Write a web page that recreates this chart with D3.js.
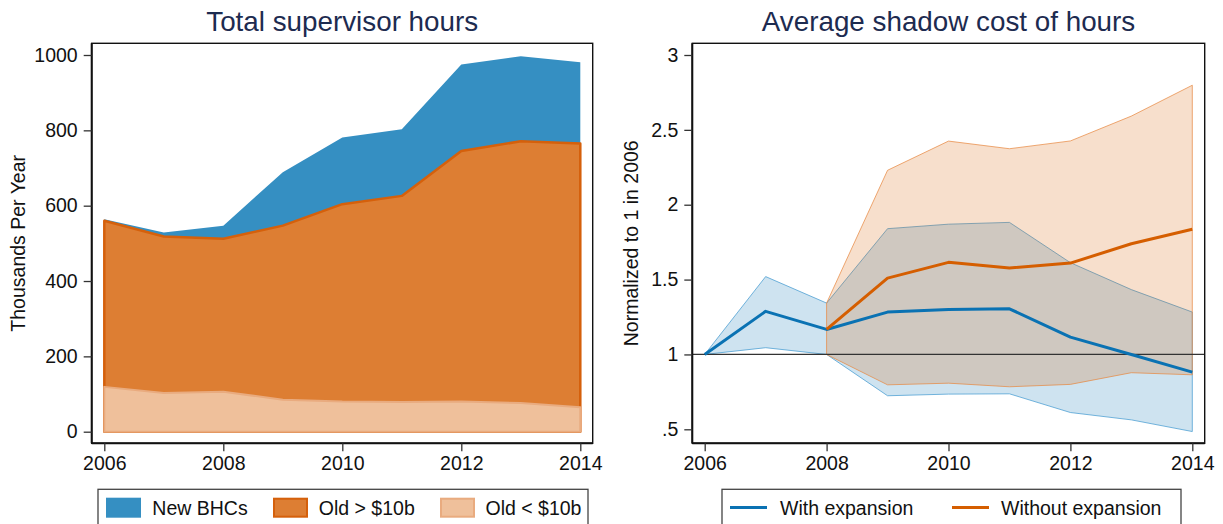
<!DOCTYPE html>
<html>
<head>
<meta charset="utf-8">
<script src="https://cdn.jsdelivr.net/npm/d3@7"></script>
<style>
  body { margin: 0; background: #fff; }
  svg text { font-family: "Liberation Sans", Arial, sans-serif; }
</style>
</head>
<body>
<div id="viz"></div>
<script>
var width = 1223,
    height = 524;

// data -- left panel (thousands of hours per year)
var years = [2006, 2007, 2008, 2009, 2010, 2011, 2012, 2013, 2014];
var newBHC   = [4, 11, 35, 142, 177, 177, 230, 226, 216];
var oldLarge = [441, 415, 406, 462, 524, 547, 665, 695, 700];
var oldSmall = [119, 103, 106, 85, 80, 79, 80, 76, 65];
var leftTicks = [0, 200, 400, 600, 800, 1000];

// data -- right panel (normalized to 1 in 2006)
var withExp = [1, 1.288, 1.167, 1.283, 1.300, 1.305, 1.116, 1.0, 0.882];
var withLo  = [1, 1.045, 1.0, 0.724, 0.735, 0.737, 0.612, 0.563, 0.485];
var withHi  = [1, 1.52, 1.343, 1.84, 1.87, 1.882, 1.613, 1.433, 1.283];
var woExp = [null, null, 1.167, 1.51, 1.615, 1.577, 1.61, 1.739, 1.836];
var woLo  = [null, null, 1.0, 0.797, 0.808, 0.784, 0.80, 0.878, 0.864];
var woHi  = [null, null, 1.343, 2.23, 2.425, 2.374, 2.426, 2.592, 2.798];
var rightTicks = [0.5, 1, 1.5, 2, 2.5, 3];
var xTicks = [2006, 2008, 2010, 2012, 2014];

var titleColor = "#1d2b50";
var colors = {
  newBHC: "#358fc2",
  oldLarge: "#dd7e33", oldLargeEdge: "#d5600b",
  oldSmall: "#efc09b", oldSmallEdge: "#e9ab7f",
  withExp: "#0a72b3", woExp: "#d55e00"
};

var svg = d3.select("#viz").append("svg")
    .attr("width", width)
    .attr("height", height);

// helper to draw frame, axes, titles
function drawFrame(g, box, x, y, yTicks, yFmt, title, ytitle, ytitleX) {
  g.append("rect")
      .attr("x", box.l).attr("y", box.t)
      .attr("width", box.r - box.l).attr("height", box.b - box.t)
      .attr("fill", "none").attr("stroke", "#111").attr("stroke-width", 1.4);
  // heavier left / bottom axis lines
  g.append("line").attr("x1", box.l).attr("x2", box.l).attr("y1", box.t).attr("y2", box.b)
      .attr("stroke", "#111").attr("stroke-width", 2);
  g.append("line").attr("x1", box.l).attr("x2", box.r).attr("y1", box.b).attr("y2", box.b)
      .attr("stroke", "#111").attr("stroke-width", 2);

  var ya = g.append("g")
      .attr("transform", "translate(" + box.l + ",0)")
      .call(d3.axisLeft(y).tickValues(yTicks).tickFormat(yFmt).tickSize(8).tickPadding(6));
  var xa = g.append("g")
      .attr("transform", "translate(0," + box.b + ")")
      .call(d3.axisBottom(x).tickValues(xTicks).tickFormat(d3.format("d")).tickSize(8).tickPadding(5));
  [ya, xa].forEach(function(a) {
    a.select(".domain").remove();
    a.selectAll(".tick line").attr("stroke", "#333").attr("stroke-width", 1.3);
    a.selectAll(".tick text").attr("fill", "#111").style("font-size", "19.5px")
        .style("font-family", "'Liberation Sans', Arial, sans-serif");
  });

  g.append("text")
      .attr("x", (box.l + box.r) / 2).attr("y", 31)
      .attr("text-anchor", "middle")
      .attr("fill", titleColor)
      .style("font-size", "27.8px")
      .text(title);

  g.append("text")
      .attr("transform", "translate(" + ytitleX + "," + ((box.t + box.b) / 2) + ") rotate(-90)")
      .attr("text-anchor", "middle")
      .attr("fill", "#111")
      .style("font-size", "19.5px")
      .text(ytitle);
}

// ---------------- left panel ----------------
var boxL = {l: 91.7, r: 592.7, t: 43.3, b: 443.3};
var xL = d3.scaleLinear().domain([2006, 2014]).range([104.3, 580.3]);
var yL = d3.scaleLinear().domain([0, 1000]).range([431.7, 55]);

// cumulative totals, areas drawn from zero and overlaid
var cumSmall = oldSmall.slice();
var cumLarge = oldLarge.map(function(v, i) { return v + oldSmall[i]; });
var cumTotal = newBHC.map(function(v, i) { return v + cumLarge[i]; });

var gL = svg.append("g");
var areaL = d3.area()
    .x(function(d) { return xL(d.year); })
    .y0(yL(0))
    .y1(function(d) { return yL(d.v); });

function pts(arr) {
  return years.map(function(yr, i) { return {year: yr, v: arr[i]}; });
}

gL.append("path").attr("d", areaL(pts(cumTotal)))
    .attr("fill", colors.newBHC);
gL.append("path").attr("d", areaL(pts(cumLarge)) + "Z")
    .attr("fill", colors.oldLarge)
    .attr("stroke", colors.oldLargeEdge).attr("stroke-width", 2.5).attr("stroke-linejoin", "round");
gL.append("path").attr("d", areaL(pts(cumSmall)) + "Z")
    .attr("fill", colors.oldSmall)
    .attr("stroke", colors.oldSmallEdge).attr("stroke-width", 2).attr("stroke-linejoin", "round");

drawFrame(gL, boxL, xL, yL, leftTicks, d3.format("d"),
    "Total supervisor hours", "Thousands Per Year", 25);

// legend left
var legL = svg.append("g");
legL.append("rect").attr("x", 98).attr("y", 489.3).attr("width", 490).attr("height", 50)
    .attr("fill", "#fff").attr("stroke", "#444").attr("stroke-width", 1.3);
var legItems = [
  {label: "New BHCs", fill: colors.newBHC, stroke: colors.newBHC, x: 106, tx: 152.3},
  {label: "Old > $10b", fill: colors.oldLarge, stroke: colors.oldLargeEdge, x: 273, tx: 318.8},
  {label: "Old < $10b", fill: colors.oldSmall, stroke: colors.oldSmallEdge, x: 440, tx: 485.5}
];
legItems.forEach(function(it) {
  legL.append("rect").attr("x", it.x + 1).attr("y", 498.7).attr("width", 33).attr("height", 18)
      .attr("fill", it.fill).attr("stroke", it.stroke).attr("stroke-width", 2);
  legL.append("text").attr("x", it.tx).attr("y", 514.5)
      .attr("fill", "#111").style("font-size", "19.5px").text(it.label);
});

// ---------------- right panel ----------------
var boxR = {l: 692.3, r: 1204.7, t: 43.3, b: 443.3};
var xR = d3.scaleLinear().domain([2006, 2014]).range([704.7, 1192.3]);
var yR = d3.scaleLinear().domain([0.5, 3]).range([429.3, 55]);

var gR = svg.append("g");

function band(lo, hi) {
  return d3.area()
      .defined(function(d, i) { return lo[i] != null; })
      .x(function(d) { return xR(d); })
      .y0(function(d, i) { return yR(lo[i]); })
      .y1(function(d, i) { return yR(hi[i]); });
}
function line(vals) {
  return d3.line()
      .defined(function(d, i) { return vals[i] != null; })
      .x(function(d) { return xR(d); })
      .y(function(d, i) { return yR(vals[i]); });
}

gR.append("path").attr("d", band(withLo, withHi)(years) + "Z")
    .attr("fill", colors.withExp).attr("fill-opacity", 0.2)
    .attr("stroke", "#3f98d0").attr("stroke-opacity", 0.8).attr("stroke-width", 0.9);
gR.append("path").attr("d", band(woLo, woHi)(years) + "Z")
    .attr("fill", colors.woExp).attr("fill-opacity", 0.2)
    .attr("stroke", "#e8873f").attr("stroke-opacity", 0.8).attr("stroke-width", 0.9);

// reference line at 1
gR.append("line")
    .attr("x1", boxR.l).attr("x2", boxR.r)
    .attr("y1", yR(1)).attr("y2", yR(1))
    .attr("stroke", "#333").attr("stroke-width", 1.3);

gR.append("path").attr("d", line(withExp)(years))
    .attr("fill", "none").attr("stroke", colors.withExp).attr("stroke-width", 3)
    .attr("stroke-linejoin", "round");
gR.append("path").attr("d", line(woExp)(years))
    .attr("fill", "none").attr("stroke", colors.woExp).attr("stroke-width", 3)
    .attr("stroke-linejoin", "round");

drawFrame(gR, boxR, xR, yR, rightTicks,
    function(d) { return d === 0.5 ? ".5" : String(d); },
    "Average shadow cost of hours", "Normalized to 1 in 2006", 637.7);

// legend right
var legR = svg.append("g");
legR.append("rect").attr("x", 722).attr("y", 489.3).attr("width", 459).attr("height", 50)
    .attr("fill", "#fff").attr("stroke", "#444").attr("stroke-width", 1.3);
var legLines = [
  {label: "With expansion", color: colors.withExp, x: 730, tx: 780},
  {label: "Without expansion", color: colors.woExp, x: 952, tx: 1001}
];
legLines.forEach(function(it) {
  legR.append("line").attr("x1", it.x).attr("x2", it.x + 37)
      .attr("y1", 507.5).attr("y2", 507.5)
      .attr("stroke", it.color).attr("stroke-width", 3);
  legR.append("text").attr("x", it.tx).attr("y", 514.5)
      .attr("fill", "#111").style("font-size", "19.5px").text(it.label);
});
</script>
</body>
</html>
